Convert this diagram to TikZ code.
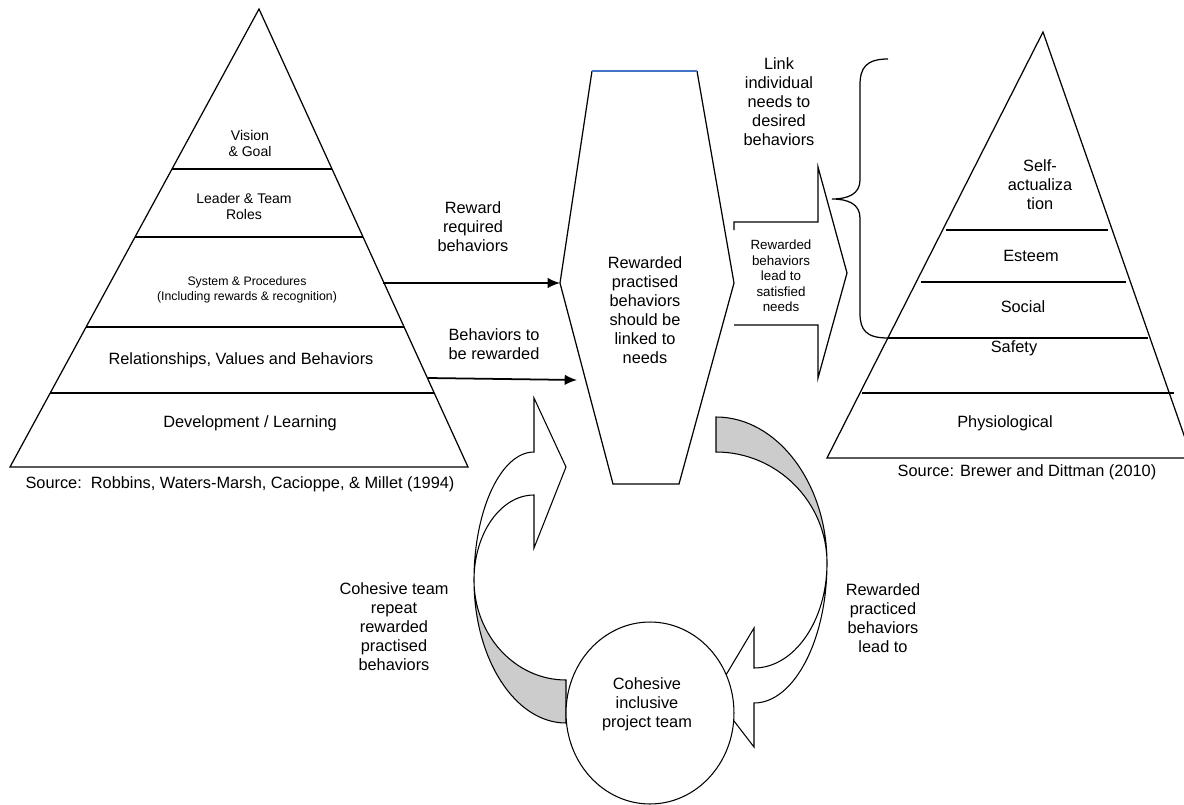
\documentclass[tikz,border=0pt]{standalone}
\usepackage{fontspec}
\setmainfont{Liberation Sans}
\usetikzlibrary{calc,arrows.meta,shapes.geometric}
\definecolor{topblue}{RGB}{68,114,196}
\definecolor{backface}{RGB}{204,204,204}
\begin{document}
\begin{tikzpicture}[x=0.02cm,y=-0.02cm]
\tikzstyle{outline}=[line width=0.7pt]
\tikzstyle{tier}=[line width=1.1pt]
\tikzstyle{flow}=[line width=1pt,-{Latex[length=7pt,width=6pt]}]
\tikzstyle{txt}=[align=center,inner sep=0pt,font=\fontsize{9.3}{10.8}\selectfont]
\tikzstyle{sml}=[align=center,inner sep=0pt,font=\fontsize{8}{9.1}\selectfont]
\tikzstyle{tny}=[align=center,inner sep=0pt,font=\fontsize{7}{8.5}\selectfont]
\tikzstyle{ribbonw}=[line width=0.6pt,fill=white]
\tikzstyle{ribbong}=[line width=0.6pt,fill=backface]
\tikzstyle{team}=[ellipse,draw,fill=white,line width=0.6pt,inner sep=0pt,minimum width=3.36cm,minimum height=3.64cm]
\useasboundingbox (0,0) rectangle (1184,805);
\coordinate (LA) at (259,9);
\coordinate (LB) at (10,467);
\coordinate (LC) at (468,467);
\draw[outline] (LA) -- (LB) -- (LC) -- cycle;
\foreach \t in {0.349,0.498,0.694,0.838}
	\draw[tier] ($(LA)!\t!(LB)$) -- ($(LA)!\t!(LC)$);
\node[sml] (vision) at (250,143) {Vision\\\& Goal};
\node[sml] (leader) at (244,206) {Leader \& Team\\Roles};
\node[tny] (system) at (247,290) {System \& Procedures\\(Including rewards \& recognition)};
\node[txt] (relation) at (241,360) {Relationships, Values and Behaviors};
\node[txt] (develop) at (250,423) {Development / Learning};
\node[txt] (srcleft) at (240,484) {Source:\ \ Robbins, Waters-Marsh, Cacioppe, \& Millet (1994)};
\coordinate (HTL) at (592,71);
\coordinate (HTR) at (697,71);
\coordinate (HR) at (734,283);
\coordinate (HBR) at (679,484);
\coordinate (HBL) at (613,484);
\coordinate (HL) at (560,283);
\draw[outline] (HTR) -- (HR) -- (HBR) -- (HBL) -- (HL) -- (HTL);
\draw[line width=1.1pt,topblue] (HTL) -- (HTR);
\node[txt] (linked) at (645,310) {Rewarded\\practised\\behaviors\\should be\\linked to\\needs};
\coordinate (reqstart) at (383,283);
\coordinate (behstart) at (428,378);
\coordinate (behend) at (577,380);
\draw[flow] (reqstart) -- (HL);
\draw[flow] (behstart) -- (behend);
\node[txt] (reqlabel) at (473,227) {Reward\\required\\behaviors};
\node[txt] (behlabel) at (494,344) {Behaviors to\\be rewarded};
\draw[outline] (734,230) -- (734,222) -- (818,222) -- (818,167) -- (847,273) -- (818,378) -- (818,325) -- (734,325);
\node[align=center,inner sep=0pt,font=\fontsize{7.6}{8.8}\selectfont] (satisfied) at (781,276) {Rewarded\\behaviors\\lead to\\satisfied\\needs};
\node[txt] (linklabel) at (779,102) {Link\\individual\\needs to\\desired\\behaviors};
\draw[outline] (888,59) .. controls (866,59) and (860,68) .. (860,85) -- (860,180) .. controls (860,194) and (848,199) .. (832,199) .. controls (848,199) and (860,204) .. (860,218) -- (860,313) .. controls (860,330) and (866,338) .. (888,338);
\coordinate (RA) at (1043,32);
\coordinate (RB) at (827,458);
\coordinate (RC) at (1192,458);
\draw[outline] (RA) -- (RB) -- (RC) -- cycle;
\foreach \y/\a/\b in {230/946/1108,282/921/1126,338/888/1148,393/862/1174}
	\draw[tier] (\a,\y) -- (\b,\y);
\node[txt] (selfact) at (1040,185) {Self-\\actualiza\\tion};
\node[txt] (esteem) at (1031,256) {Esteem};
\node[txt] (social) at (1023,307) {Social};
\node[txt] (safety) at (1014,348) {Safety};
\node[txt] (physio) at (1005,423) {Physiological};
\node[txt] (srcright) at (1027,472) {Source: Brewer and Dittman (2010)};
\draw[ribbong] (566,680) .. controls (515,680) and (474,635) .. (474,580) .. controls (474,659) and (515,723) .. (566,723) -- cycle;
\draw[ribbonw] (474,580) .. controls (474,510) and (501,452) .. (534,452) -- (534,398) -- (566,467) -- (534,548) -- (534,495) .. controls (501,495) and (474,533) .. (474,580);
\draw[ribbong] (716,417) .. controls (777,417) and (827,483) .. (827,563) .. controls (827,502) and (777,452) .. (716,452) -- cycle;
\draw[ribbonw] (827,563) .. controls (827,640) and (794,703) .. (754,703) -- (754,747) -- (714,695) -- (754,628) -- (754,668) .. controls (794,668) and (827,621) .. (827,563);
\node[team] (team) at (650,713) {};
\node[txt] (teamtext) at (647,704) {Cohesive\\inclusive\\project team};
\node[txt] (repeat) at (394,627) {Cohesive team\\repeat\\rewarded\\practised\\behaviors};
\node[txt] (leadto) at (883,618) {Rewarded\\practiced\\behaviors\\lead to};
\end{tikzpicture}
\end{document}
